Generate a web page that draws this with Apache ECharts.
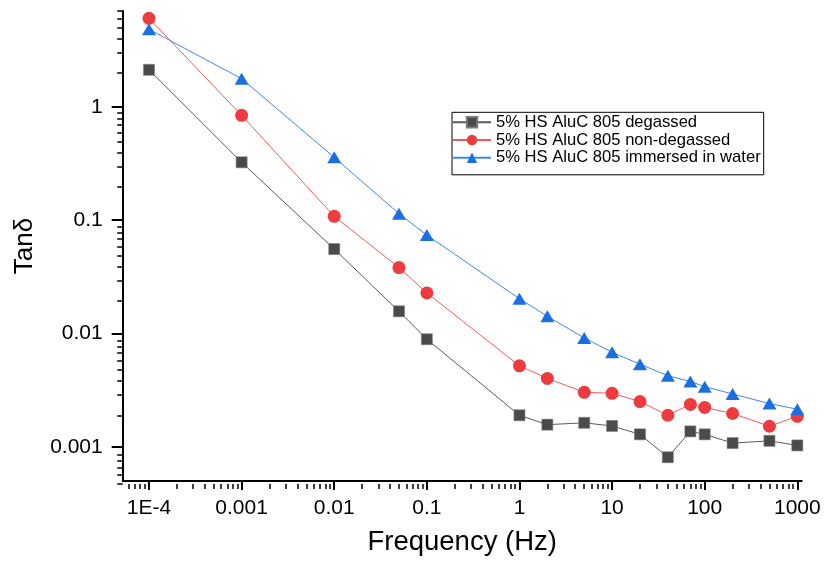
<!DOCTYPE html>
<html>
<head>
<meta charset="utf-8">
<script src="https://cdn.jsdelivr.net/npm/echarts@6/dist/echarts.min.js"></script>
<style>
html,body{margin:0;padding:0;background:#fff;}
#chart{width:825px;height:561px;}
</style>
</head>
<body>
<div id="chart"></div>
<script>
// ---- data ----
const freq = [0.0001, 0.001, 0.01, 0.05, 0.1, 1, 2, 5, 10, 20, 40, 70, 100, 200, 500, 1000];
const degassed = [2.12, 0.324, 0.0556, 0.0157, 0.0089, 0.0019, 0.00157, 0.00163, 0.00153, 0.00129, 0.00081, 0.00137, 0.00129, 0.00108, 0.00113, 0.00103];
const nonDegassed = [6.03, 0.841, 0.108, 0.0382, 0.0228, 0.00519, 0.00402, 0.00303, 0.00297, 0.00251, 0.0019, 0.00237, 0.00223, 0.00197, 0.00152, 0.00186];
const immersed = [4.83, 1.77, 0.358, 0.114, 0.0738, 0.0203, 0.0142, 0.00914, 0.00683, 0.00536, 0.00424, 0.00378, 0.0034, 0.00293, 0.00241, 0.00215];
const seriesNames = ['5% HS AluC 805 degassed', '5% HS AluC 805 non-degassed', '5% HS AluC 805 immersed in water'];
const xTickValues = [0.0001, 0.001, 0.01, 0.1, 1, 10, 100, 1000];
const xTickLabels = ['1E-4', '0.001', '0.01', '0.1', '1', '10', '100', '1000'];
const yTickValues = [0.001, 0.01, 0.1, 1];
const yTickLabels = ['0.001', '0.01', '0.1', '1'];

const xMin = 5.2e-5, xMax = 1115;
const yMin = 5e-4, yMax = 7;

function minorValues(lo, hi) {
  const out = [];
  for (let k = -6; k <= 4; k++) {
    for (let m = 2; m <= 9; m++) {
      const v = Number((m * Math.pow(10, k)).toPrecision(6));
      if (v >= lo && v <= hi) out.push(v);
    }
  }
  return out;
}
function labelFor(values, labels) {
  return function (v) {
    for (let i = 0; i < values.length; i++) {
      if (Math.abs(Math.log10(v) - Math.log10(values[i])) < 1e-6) return labels[i];
    }
    return '';
  };
}

const FONT = "'Liberation Sans', Arial, sans-serif";
const gridRect = { left: 122.7, right: 23.3, top: 11, bottom: 77 };

const chart = echarts.init(document.getElementById('chart'), null, { renderer: 'canvas' });
const option = {
  backgroundColor: '#fff',
  animation: false,
  grid: [
    Object.assign({ containLabel: false }, gridRect),
    Object.assign({ containLabel: false }, gridRect)
  ],
  legend: {
    orient: 'vertical',
    left: 452,
    top: 112.3,
    padding: [1.4, 3, 8.5, 0],
    itemGap: 0.8,
    itemWidth: 38,
    itemHeight: 13,
    borderColor: '#000',
    borderWidth: 1,
    backgroundColor: '#fff',
    textStyle: { fontFamily: FONT, fontSize: 16.6, color: '#000', padding: [0, 0, 0, 0] },
    data: seriesNames
  },
  xAxis: [
    {
      type: 'log', gridIndex: 0, min: xMin, max: xMax,
      name: 'Frequency (Hz)', nameLocation: 'middle', nameGap: 47,
      nameTextStyle: { fontFamily: FONT, fontSize: 27.5, color: '#000' },
      axisLine: { show: true, onZero: false, lineStyle: { color: '#000', width: 2 } },
      axisTick: { show: true, inside: false, length: 9, customValues: xTickValues, lineStyle: { color: '#000', width: 2 } },
      axisLabel: { show: true, margin: 17, customValues: xTickValues, formatter: labelFor(xTickValues, xTickLabels), fontFamily: FONT, fontSize: 21, color: '#000' },
      splitLine: { show: false }, minorTick: { show: false }
    },
    {
      type: 'log', gridIndex: 1, min: xMin, max: xMax,
      axisLine: { show: false },
      axisTick: { show: true, inside: false, length: 5, customValues: minorValues(xMin, xMax), lineStyle: { color: '#000', width: 1.5 } },
      axisLabel: { show: false },
      splitLine: { show: false }
    }
  ],
  yAxis: [
    {
      type: 'log', gridIndex: 0, min: yMin, max: yMax,
      name: 'Tanδ', nameLocation: 'middle', nameGap: 85,
      nameTextStyle: { fontFamily: FONT, fontSize: 26, color: '#000' },
      axisLine: { show: true, onZero: false, lineStyle: { color: '#000', width: 2 } },
      axisTick: { show: true, inside: false, length: 11, customValues: yTickValues, lineStyle: { color: '#000', width: 2 } },
      axisLabel: { show: true, margin: 20, customValues: yTickValues, formatter: labelFor(yTickValues, yTickLabels), fontFamily: FONT, fontSize: 21, color: '#000' },
      splitLine: { show: false }, minorTick: { show: false }
    },
    {
      type: 'log', gridIndex: 1, min: yMin, max: yMax,
      axisLine: { show: false },
      axisTick: { show: true, inside: false, length: 5.5, customValues: minorValues(yMin, yMax), lineStyle: { color: '#000', width: 1.5 } },
      axisLabel: { show: false },
      splitLine: { show: false }
    }
  ],
  series: [
    {
      name: seriesNames[0], type: 'line', xAxisIndex: 0, yAxisIndex: 0,
      data: freq.map((f, i) => [f, degassed[i]]),
      symbol: 'rect', symbolSize: 11,
      lineStyle: { color: '#5a5a5a', width: 1 },
      itemStyle: { color: '#4a4a4a', borderColor: '#7a7a7a', borderWidth: 0.6 },
      emphasis: { disabled: true }
    },
    {
      name: seriesNames[1], type: 'line', xAxisIndex: 0, yAxisIndex: 0,
      data: freq.map((f, i) => [f, nonDegassed[i]]),
      symbol: 'circle', symbolSize: 13,
      lineStyle: { color: '#f25a5a', width: 1 },
      itemStyle: { color: '#ee3b3f' },
      emphasis: { disabled: true }
    },
    {
      name: seriesNames[2], type: 'line', xAxisIndex: 0, yAxisIndex: 0,
      data: freq.map((f, i) => [f, immersed[i]]),
      symbol: 'triangle', symbolSize: [14, 12],
      lineStyle: { color: '#3e88ea', width: 1 },
      itemStyle: { color: '#1b6fe0' },
      emphasis: { disabled: true }
    }
  ]
};
chart.setOption(option);
</script>
</body>
</html>
